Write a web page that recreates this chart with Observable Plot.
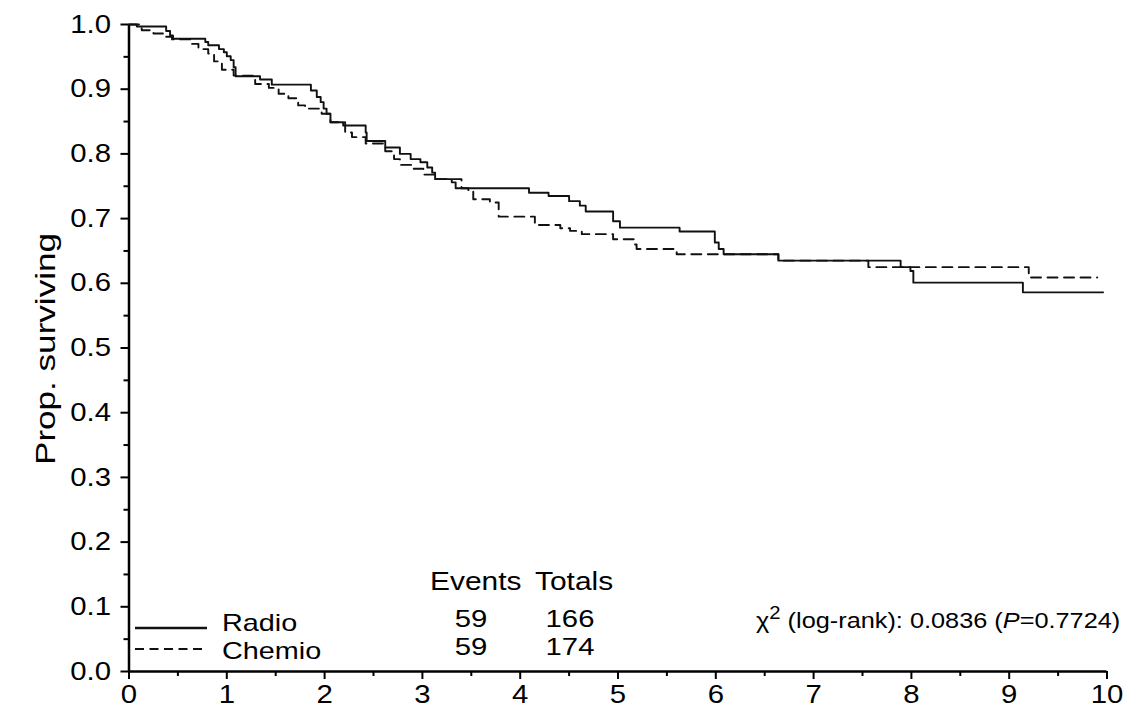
<!DOCTYPE html>
<html><head><meta charset="utf-8">
<script src="https://cdn.jsdelivr.net/npm/d3@7"></script>
<script src="https://cdn.jsdelivr.net/npm/@observablehq/plot@0.6"></script>
<style>
body{margin:0;background:#fff;}
#wrap{position:relative;width:1133px;height:718px;font-family:"Liberation Sans",Arial,Helvetica,sans-serif;color:#000;overflow:hidden;}
.lab{position:absolute;white-space:nowrap;line-height:0.8;}
</style></head><body><div id="wrap"></div>
<script>
// ---- data ----
const radioTime = [0, 0.08, 0.38, 0.42, 0.45, 0.78, 0.81, 0.92, 0.97, 1.00, 1.04, 1.07, 1.09, 1.34, 1.46, 1.86, 1.92, 1.96, 1.99, 2.02, 2.06, 2.19, 2.42, 2.43, 2.62, 2.77, 2.88, 2.98, 3.05, 3.10, 3.13, 3.30, 3.34, 4.09, 4.29, 4.50, 4.61, 4.67, 4.95, 5.02, 5.63, 5.99, 6.03, 6.08, 6.64, 7.89, 7.99, 8.02, 9.14, 9.96];
const radioSurv = [1.0, 0.997, 0.990, 0.983, 0.978, 0.973, 0.968, 0.962, 0.957, 0.951, 0.945, 0.934, 0.920, 0.915, 0.907, 0.898, 0.888, 0.880, 0.870, 0.862, 0.849, 0.844, 0.833, 0.820, 0.810, 0.800, 0.792, 0.787, 0.779, 0.771, 0.761, 0.756, 0.747, 0.740, 0.735, 0.727, 0.720, 0.711, 0.696, 0.686, 0.680, 0.663, 0.653, 0.645, 0.635, 0.625, 0.619, 0.601, 0.586, 0.586];
const chemioTime = [0, 0.13, 0.25, 0.37, 0.44, 0.63, 0.71, 0.81, 0.87, 0.95, 1.07, 1.29, 1.43, 1.53, 1.63, 1.73, 1.80, 1.97, 2.06, 2.21, 2.28, 2.42, 2.62, 2.71, 2.77, 2.91, 3.01, 3.13, 3.40, 3.47, 3.52, 3.69, 3.78, 4.15, 4.41, 4.51, 4.63, 4.95, 5.17, 5.19, 5.60, 6.64, 7.56, 9.20, 9.90];
const chemioSurv = [1.0, 0.991, 0.986, 0.981, 0.977, 0.970, 0.962, 0.955, 0.943, 0.930, 0.921, 0.908, 0.902, 0.893, 0.886, 0.875, 0.870, 0.862, 0.849, 0.833, 0.826, 0.816, 0.804, 0.792, 0.783, 0.777, 0.768, 0.761, 0.747, 0.743, 0.730, 0.725, 0.703, 0.690, 0.685, 0.681, 0.676, 0.668, 0.660, 0.653, 0.645, 0.635, 0.625, 0.609, 0.609];
const groups = ["Radio", "Chemio"];
const events = [59, 59];
const totals = [166, 174];
const xTicks = [0,1,2,3,4,5,6,7,8,9,10];
const xMinor = [0.5,1.5,2.5,3.5,4.5,5.5,6.5,7.5,8.5,9.5];
const yTicks = [0,0.1,0.2,0.3,0.4,0.5,0.6,0.7,0.8,0.9,1.0];
const yMinor = [0.05,0.15,0.25,0.35,0.45,0.55,0.65,0.75,0.85,0.95];
const yLabel = "Prop. surviving";
const chiStat = "0.0836";
const pValue = "0.7724";

const radio = radioTime.map((t, i) => ({t, s: radioSurv[i]}));
const chemio = chemioTime.map((t, i) => ({t, s: chemioSurv[i]}));

const chart = Plot.plot({
  width: 1133, height: 718,
  marginLeft: 128.5, marginRight: 26.5, marginTop: 24, marginBottom: 47,
  x: {domain: [0, 10]},
  y: {domain: [0, 1]},
  style: {fontFamily: '"Liberation Sans", Arial, Helvetica, sans-serif', fontSize: "25.5px", color: "#000", background: "#fff"},
  marks: [
    Plot.axisY(yTicks, {tickSize: 8, tickPadding: 10, strokeWidth: 2, tickFormat: d => d.toFixed(1), label: null}),
    Plot.axisY(yMinor, {tickSize: 5, strokeWidth: 2, tickFormat: () => "", label: null}),
    Plot.axisX(xTicks, {tickSize: 8, tickPadding: 5, strokeWidth: 2, tickFormat: d => String(d), label: null}),
    Plot.axisX(xMinor, {tickSize: 5, strokeWidth: 2, tickFormat: () => "", label: null}),
    Plot.ruleX([0], {strokeWidth: 2.5}),
    Plot.ruleY([0], {strokeWidth: 2.5}),
    Plot.line(chemio, {x: "t", y: "s", curve: "step-after", stroke: "#111", strokeWidth: 1.9, strokeDasharray: "10,6.5"}),
    Plot.line(radio, {x: "t", y: "s", curve: "step-after", stroke: "#111", strokeWidth: 1.9})
  ]
});
const wrap = document.getElementById("wrap");
wrap.appendChild(chart);

// horizontally widen tick labels to match the reference face
chart.querySelectorAll("text").forEach(t => {
  const w = t.getComputedTextLength();
  if (!w) return;
  t.setAttribute("textLength", w * 1.15);
  t.setAttribute("lengthAdjust", "spacingAndGlyphs");
});

// ---- labels / legend / annotation overlay ----
function place(html, x, y, {anchor = "start", size = 26, k = 1.15, rotate = 0} = {}) {
  const el = document.createElement("div");
  el.className = "lab";
  el.innerHTML = html;
  el.style.fontSize = size + "px";
  el.style.left = x + "px";
  el.style.top = y + "px";
  const rot = rotate ? ` rotate(${rotate}deg)` : "";
  if (anchor === "middle") {
    el.style.transformOrigin = "center center";
    el.style.transform = `translate(-50%,-50%)${rot} scaleX(${k})`;
  } else if (anchor === "end") {
    el.style.transformOrigin = "right center";
    el.style.transform = `translate(-100%,-50%) scaleX(${k})`;
  } else {
    el.style.transformOrigin = "left center";
    el.style.transform = `translateY(-50%) scaleX(${k})`;
  }
  wrap.appendChild(el);
  return el;
}
// y axis title, stretched to the reference length
const yl = place(yLabel, 47, 349, {anchor: "middle", size: 27, k: 1, rotate: -90});
const ylw = yl.getBoundingClientRect().height;
yl.style.transform = `translate(-50%,-50%) rotate(-90deg) scaleX(${232 / ylw})`;

place("Events", 430, 581);
place("Totals", 535, 581);
const rowY = [623, 651];
const numY = [619, 647];
groups.forEach((g, i) => {
  place(g, 222, rowY[i], {size: 24, k: 1.2});
  place(String(events[i]), 471, numY[i], {anchor: "middle", size: 24, k: 1.22});
  place(String(totals[i]), 570, numY[i], {anchor: "middle", size: 24, k: 1.22});
});
place(`χ<sup style="font-size:0.8em;vertical-align:0.5em;line-height:0">2</sup> (log-rank): ${chiStat} (<i>P</i>=${pValue})`, 756, 621, {size: 22, k: 1.15});

const ns = "http://www.w3.org/2000/svg";
const ov = document.createElementNS(ns, "svg");
ov.setAttribute("width", 1133); ov.setAttribute("height", 718);
ov.style.position = "absolute"; ov.style.left = "0"; ov.style.top = "0"; ov.style.pointerEvents = "none";
[["", 628], ["9,5.5", 649]].forEach(([dash, y]) => {
  const l = document.createElementNS(ns, "line");
  l.setAttribute("x1", 135); l.setAttribute("x2", 207);
  l.setAttribute("y1", y); l.setAttribute("y2", y);
  l.setAttribute("stroke", "#111"); l.setAttribute("stroke-width", dash ? 1.9 : 2.4);
  if (dash) l.setAttribute("stroke-dasharray", dash);
  ov.appendChild(l);
});
wrap.appendChild(ov);
</script></body></html>
